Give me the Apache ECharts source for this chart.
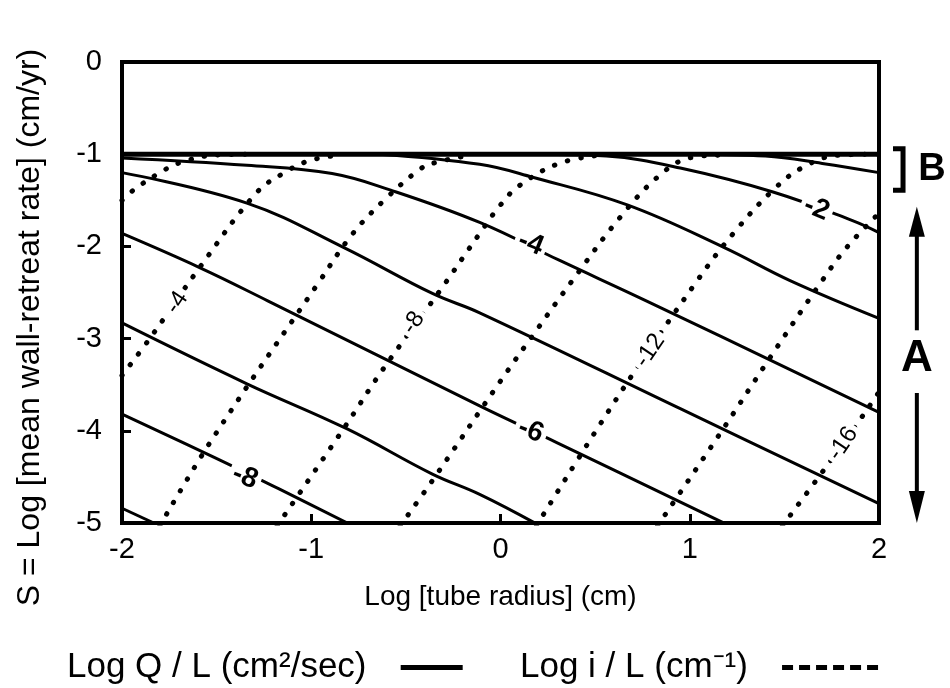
<!DOCTYPE html>
<html>
<head>
<meta charset="utf-8">
<script src="https://cdn.jsdelivr.net/npm/echarts@6/dist/echarts.min.js"></script>
<style>
html,body{margin:0;padding:0;background:#fff}
#main{width:950px;height:688px}
</style>
</head>
<body>
<div id="main"></div>
<script>
// axis ticks
var xTicks = [-2, -1, 0, 1, 2];
var yTicks = [0, -1, -2, -3, -4, -5];

// upper limit line (S = -1)
var envelope = [[-2, -1], [2, -1]];

// Log Q / L curves (solid)
var q1 = [[1.0, -1.0], [1.4, -1.02], [1.7, -1.1], [2.0, -1.2]];
var q2 = [[0.2, -1.0], [0.56, -1.02], [0.95, -1.15], [1.44, -1.41], [1.86, -1.72], [2.0, -1.85]];
var q3 = [[-0.64, -1.0], [-0.11, -1.11], [0.17, -1.25], [0.67, -1.55], [1.18, -2.01], [1.53, -2.37], [2.0, -2.78]];
var q4 = [[-2.0, -1.04], [-1.34, -1.12], [-0.89, -1.21], [-0.58, -1.39], [-0.11, -1.74], [0.31, -2.15], [0.77, -2.59], [2.0, -3.8]];
var q5 = [[-2.0, -1.2], [-1.34, -1.53], [-0.83, -2.01], [-0.36, -2.51], [-0.11, -2.72], [0.95, -3.76], [2.0, -4.79]];
var q6 = [[-2.0, -1.86], [-1.59, -2.23], [-1.23, -2.59], [-0.11, -3.73], [0.3, -4.13], [1.19, -5.01]];
var q7 = [[-2.0, -2.83], [-1.34, -3.49], [-0.81, -3.98], [-0.36, -4.47], [-0.11, -4.69], [0.19, -5.01]];
var q8 = [[-2.0, -3.82], [-1.51, -4.29], [-1.17, -4.63], [-0.78, -5.03]];
var q9 = [[-2.0, -4.84], [-1.8, -5.03]];
var qCurves = [q1, q2, q3, q4, q5, q6, q7, q8, q9];

// Log i / L curves (dotted)
var i2 = [[-2.0, -1.5], [-1.94, -1.39], [-1.8, -1.2], [-1.69, -1.09], [-1.51, -1.01], [-1.32, -1.0]];
var i4 = [[-2.0, -3.4], [-1.85, -2.99], [-1.59, -2.23], [-1.29, -1.42], [-1.15, -1.21], [-1.01, -1.07], [-0.85, -1.01]];
var i6 = [[-1.8, -5.03], [-1.52, -4.08], [-0.96, -2.39], [-0.78, -1.86], [-0.6, -1.47], [-0.43, -1.17], [-0.36, -1.1], [-0.16, -1.01]];
var i8 = [[-1.18, -5.03], [-0.83, -3.98], [-0.62, -3.33], [-0.32, -2.48], [-0.11, -1.86], [0.0, -1.55], [0.1, -1.34], [0.31, -1.1], [0.53, -1.01]];
var i10 = [[-0.53, -5.03], [-0.36, -4.54], [0.0, -3.46], [0.19, -2.91], [0.38, -2.37], [0.63, -1.69], [0.84, -1.23], [1.0, -1.04], [1.16, -1.01]];
var i12 = [[0.19, -5.03], [0.63, -3.6], [1.04, -2.37], [1.23, -1.86], [1.44, -1.39], [1.6, -1.14], [1.79, -1.01], [2.0, -1.0]];
var i14 = [[0.83, -5.03], [1.16, -4.03], [1.42, -3.22], [1.7, -2.37], [1.83, -2.01], [2.0, -1.64]];
var i16 = [[1.49, -5.03], [1.81, -4.14], [2.0, -3.58]];
var iCurves = [i2, i4, i6, i8, i10, i12, i14, i16];

// curve labels
var qLabelText = ['-2', '-4', '-6', '-8'];
var qLabelPos = [[1.67, -1.59], [0.16, -1.97], [0.16, -4.0], [-1.35, -4.5]];
var iLabelText = ['-4', '-8', '-12', '-16'];
var iLabelPos = [[-1.71, -2.61], [-0.46, -2.83], [0.79, -3.13], [1.81, -4.14]];

var FONT = '"Liberation Sans", Arial, sans-serif';
var QNAME = 'Log Q / L (cm²/sec)';
var INAME = 'Log i / L (cm⁻¹)';

var chart = echarts.init(document.getElementById('main'));

var series = [];
series.push({
    name: QNAME, type: 'line', data: envelope, symbol: 'none', silent: true,
    lineStyle: { color: '#000', width: 5 }, z: 3
});
qCurves.forEach(function (c) {
    series.push({
        name: QNAME, type: 'line', data: c, symbol: 'none', silent: true,
        smooth: 0.4,
        lineStyle: { color: '#000', width: 3 }, z: 3
    });
});
iCurves.forEach(function (c) {
    series.push({
        name: INAME, type: 'line', data: c, symbol: 'none', silent: true,
        smooth: 0.4,
        lineStyle: { color: '#000', width: 5, type: [0.5, 13], cap: 'round' }, z: 2
    });
});

// text labels sitting on the curves, with a white box that cuts the line
function labelSeries(pos, texts, font, angle) {
    return {
        type: 'custom', silent: true, z: 10, data: pos,
        renderItem: function (params, api) {
            var p = api.coord([api.value(0), api.value(1)]);
            return {
                type: 'text', x: p[0], y: p[1], rotation: angle * Math.PI / 180,
                style: {
                    text: texts[params.dataIndex], font: font, fill: '#000',
                    align: 'center', verticalAlign: 'middle',
                    backgroundColor: '#fff', padding: [0, 4]
                }
            };
        }
    };
}
series.push(labelSeries(qLabelPos, qLabelText, 'bold 28px ' + FONT, -22));
series.push(labelSeries(iLabelPos, iLabelText, '24px ' + FONT, 56));

var option = {
    animation: false,
    backgroundColor: '#fff',
    grid: {
        left: 122, right: 71, top: 62, bottom: 165,
        show: true, borderColor: '#000', borderWidth: 4
    },
    xAxis: {
        type: 'value', min: xTicks[0], max: xTicks[xTicks.length - 1], interval: 1,
        name: 'Log [tube radius] (cm)', nameLocation: 'middle', nameGap: 60,
        nameTextStyle: { fontSize: 28, fontFamily: FONT, color: '#000' },
        axisLine: { onZero: false, lineStyle: { color: '#000', width: 4 } },
        axisTick: { inside: true, length: 9, lineStyle: { color: '#000', width: 3 } },
        axisLabel: { fontSize: 29, fontFamily: FONT, color: '#000', margin: 12 },
        splitLine: { show: false }
    },
    yAxis: {
        type: 'value', min: yTicks[yTicks.length - 1], max: yTicks[0], interval: 1,
        name: 'S = Log [mean wall-retreat rate] (cm/yr)', nameLocation: 'middle', nameGap: 76,
        nameTextStyle: { fontSize: 32, fontFamily: FONT, color: '#000', padding: [0, 70, 0, 0] },
        axisLine: { onZero: false, lineStyle: { color: '#000', width: 4 } },
        axisTick: { inside: true, length: 9, lineStyle: { color: '#000', width: 3 } },
        axisLabel: { fontSize: 29, fontFamily: FONT, color: '#000', margin: 20 },
        splitLine: { show: false }
    },
    legend: [{
        data: [QNAME], left: 62, top: 645, align: 'right', selectedMode: false,
        itemWidth: 62, itemHeight: 5,
        itemStyle: { opacity: 0 },
        lineStyle: { color: '#000', width: 5 },
        formatter: function (n) { return n + '   '; },
        textStyle: { fontSize: 35, fontFamily: FONT, color: '#000' }
    }, {
        data: [INAME], left: 515, top: 645, align: 'right', selectedMode: false,
        itemWidth: 96, itemHeight: 5,
        itemStyle: { opacity: 0 },
        lineStyle: { color: '#000', width: 5, type: [11, 6], cap: 'butt' },
        formatter: function (n) { return n + '   '; },
        textStyle: { fontSize: 35, fontFamily: FONT, color: '#000' }
    }],
    series: series
};
chart.setOption(option);

// annotations right of the plot: ] B and the A arrow
function px(x, y) { return chart.convertToPixel({ gridIndex: 0 }, [x, y]); }
var bt = px(2.127, -0.94), bb = px(2.127, -1.39), bl = px(2.074, -0.94);
var bLab = px(2.28, -1.17);
var upTip = px(2.2, -1.57), upEnd = px(2.2, -2.91);
var aLab = px(2.2, -3.22);
var dnEnd = px(2.2, -3.59), dnTip = px(2.2, -5.0);
chart.setOption({
    graphic: [
        { type: 'polyline', shape: { points: [[bl[0], bt[1]], [bt[0], bt[1]], [bb[0], bb[1]], [bl[0], bb[1]]] },
          style: { stroke: '#000', lineWidth: 5, fill: null } },
        { type: 'text', x: bLab[0], y: bLab[1],
          style: { text: 'B', font: 'bold 38px ' + FONT, fill: '#000', align: 'center', verticalAlign: 'middle' } },
        { type: 'line', shape: { x1: upTip[0], y1: upTip[1] + 20, x2: upEnd[0], y2: upEnd[1] },
          style: { stroke: '#000', lineWidth: 4 } },
        { type: 'polygon', shape: { points: [[upTip[0], upTip[1]], [upTip[0] - 8, upTip[1] + 30], [upTip[0] + 8, upTip[1] + 30]] },
          style: { fill: '#000' } },
        { type: 'text', x: aLab[0], y: aLab[1],
          style: { text: 'A', font: 'bold 44px ' + FONT, fill: '#000', align: 'center', verticalAlign: 'middle' } },
        { type: 'line', shape: { x1: dnEnd[0], y1: dnEnd[1], x2: dnTip[0], y2: dnTip[1] - 20 },
          style: { stroke: '#000', lineWidth: 4 } },
        { type: 'polygon', shape: { points: [[dnTip[0], dnTip[1]], [dnTip[0] - 8, dnTip[1] - 32], [dnTip[0] + 8, dnTip[1] - 32]] },
          style: { fill: '#000' } }
    ]
});
</script>
</body>
</html>
